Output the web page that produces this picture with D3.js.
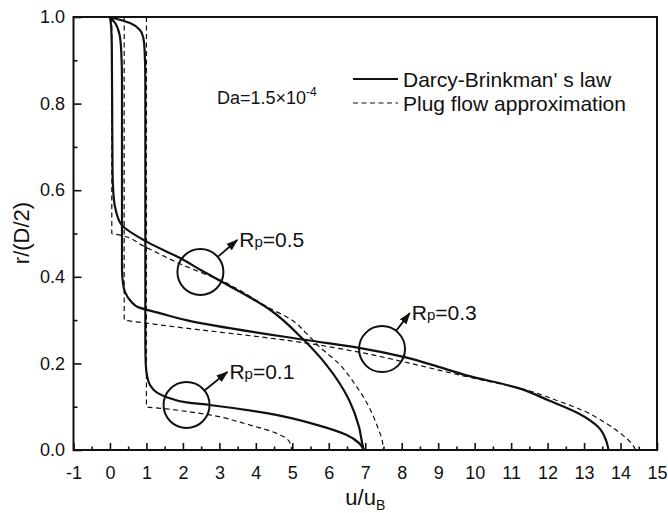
<!DOCTYPE html>
<html>
<head>
<meta charset="utf-8">
<title>Velocity profiles</title>
<style>
  body { margin: 0; background: #fff; }
  svg { display: block; font-family: "Liberation Sans", Arial, sans-serif; }
  .tick text { font-size: 18px; fill: #111; }
  .tick line { stroke: #111; stroke-width: 1.6; }
</style>
</head>
<body>
<div id="chart"></div>
<script src="https://d3js.org/d3.v7.min.js"></script>
<script>
// [u/uB, r/(D/2)]
// Darcy-Brinkman's law (solid)
var brinkman01 = [[0,1],[0.55,0.986],[0.82,0.97],[0.91,0.954],[0.95,0.924],[0.97,0.85],[0.97,0.25],[0.98,0.2],[1.02,0.17],[1.1,0.15],[1.3,0.132],[1.56,0.122],[2.1,0.11],[2.73,0.104],[4.3,0.085],[5.67,0.058],[6.48,0.035],[6.83,0.016],[6.96,0]];
var brinkman03 = [[0,1],[0.15,0.985],[0.26,0.96],[0.31,0.92],[0.33,0.85],[0.33,0.7],[0.33,0.42],[0.35,0.39],[0.41,0.365],[0.59,0.342],[0.77,0.33],[1.04,0.323],[1.36,0.316],[2.09,0.3],[5.38,0.254],[6.83,0.236],[8.11,0.214],[9.01,0.192],[9.75,0.173],[11.2,0.143],[12.02,0.115],[12.84,0.085],[13.39,0.053],[13.6,0.023],[13.66,0.005],[13.67,0]];
var brinkman05 = [[0,1],[0.03,0.98],[0.05,0.93],[0.06,0.8],[0.07,0.65],[0.1,0.585],[0.17,0.55],[0.32,0.52],[1.03,0.48],[2.0,0.44],[2.5,0.415],[3.08,0.388],[4.37,0.325],[5.27,0.258],[5.95,0.195],[6.56,0.115],[6.83,0.053],[6.93,0.01],[6.96,0]];
// Plug flow approximation (dashed)
var plug01 = [[1.0,1],[1.0,0.1],[1.55,0.095],[2.73,0.081],[3.82,0.058],[4.56,0.039],[4.92,0.019],[4.98,0]];
var plug03 = [[0.39,1],[0.39,0.301],[1.0,0.293],[1.36,0.289],[5.38,0.247],[6.83,0.226],[7.93,0.206],[9.75,0.17],[11.4,0.139],[12.3,0.113],[13.0,0.09],[13.6,0.062],[14.05,0.035],[14.3,0.015],[14.42,0]];
var plug05 = [[0.05,1],[0.05,0.5],[0.25,0.497],[0.94,0.47],[2.0,0.427],[3.08,0.39],[4.37,0.328],[4.99,0.3],[5.38,0.27],[5.75,0.238],[6.27,0.2],[6.75,0.148],[7.1,0.1],[7.33,0.055],[7.47,0.02],[7.49,0]];

var xTicks = [-1,0,1,2,3,4,5,6,7,8,9,10,11,12,13,14,15];
var yTicks = [0.0,0.2,0.4,0.6,0.8,1.0];

// circled labels: Rp value, circle centre, arrow tip (data units)
var rpLabels = ["0.1","0.3","0.5"];
var rpCircles = [[2.10,0.104],[7.46,0.233],[2.48,0.411]];
var rpArrowTips = [[3.22,0.18],[8.22,0.316],[3.49,0.485]];

var legendLabels = ["Darcy-Brinkman' s law","Plug flow approximation"];

var W = 668, H = 513;
var margin = {top: 17, right: 11, bottom: 63, left: 73.5};
var width = W - margin.left - margin.right,
    height = H - margin.top - margin.bottom;

var svg = d3.select("#chart").append("svg")
    .attr("width", W).attr("height", H);

var g = svg.append("g")
    .attr("transform", "translate(" + margin.left + "," + margin.top + ")");

var x = d3.scaleLinear().domain([-1, 15]).range([0, width]);
var y = d3.scaleLinear().domain([0, 1]).range([height, 0]);

function mids(a) {
    var out = [];
    for (var i = 0; i < a.length - 1; i++) out.push((a[i] + a[i + 1]) / 2);
    return out;
}

// minor ticks
g.append("g").attr("transform", "translate(0," + height + ")")
    .call(d3.axisBottom(x).tickValues(mids(xTicks)).tickSizeInner(-3.5).tickSizeOuter(0).tickFormat(""))
    .call(a => a.select(".domain").remove());
g.append("g")
    .call(d3.axisLeft(y).tickValues(mids(yTicks)).tickSizeInner(-4).tickSizeOuter(0).tickFormat(""))
    .call(a => a.select(".domain").remove());

// major ticks
g.append("g").attr("transform", "translate(0," + height + ")")
    .call(d3.axisBottom(x).tickValues(xTicks).tickSizeInner(-7).tickSizeOuter(0).tickPadding(16).tickFormat(d3.format("d")))
    .call(a => a.select(".domain").remove())
    .selectAll("text").text(d => d < 0 ? "-" + Math.abs(d) : d);
g.append("g")
    .call(d3.axisLeft(y).tickValues(yTicks).tickSizeInner(-8).tickSizeOuter(0).tickPadding(8.5).tickFormat(d3.format(".1f")))
    .call(a => a.select(".domain").remove());

g.append("rect")
    .attr("width", width).attr("height", height)
    .attr("fill", "none").attr("stroke", "#111").attr("stroke-width", 2);

var line = d3.line()
    .x(d => x(d[0]))
    .y(d => y(d[1]))
    .curve(d3.curveMonotoneY);

[plug01, plug03, plug05].forEach(function(s) {
    g.append("path").datum(s)
        .attr("d", line)
        .attr("fill", "none")
        .attr("stroke", "#111")
        .attr("stroke-width", 1.2)
        .attr("stroke-dasharray", "5,3.5");
});
[brinkman01, brinkman03, brinkman05].forEach(function(s) {
    g.append("path").datum(s)
        .attr("d", line)
        .attr("fill", "none")
        .attr("stroke", "#111")
        .attr("stroke-width", 2.2);
});

// circles + arrows + labels
svg.append("defs").append("marker")
    .attr("id", "head")
    .attr("viewBox", "0 0 10 10")
    .attr("refX", 9).attr("refY", 5)
    .attr("markerWidth", 12).attr("markerHeight", 12)
    .attr("markerUnits", "userSpaceOnUse")
    .attr("orient", "auto")
    .append("path").attr("d", "M0,1.5 L10,5 L0,8.5 Z").attr("fill", "#111");

var R = 23;
rpLabels.forEach(function(lab, i) {
    var cx = x(rpCircles[i][0]), cy = y(rpCircles[i][1]);
    var tx = x(rpArrowTips[i][0]), ty = y(rpArrowTips[i][1]);
    var dx = tx - cx, dy = ty - cy, len = Math.sqrt(dx * dx + dy * dy);
    g.append("circle")
        .attr("cx", cx).attr("cy", cy).attr("r", R)
        .attr("fill", "none").attr("stroke", "#111").attr("stroke-width", 2);
    g.append("line")
        .attr("x1", cx + R * dx / len).attr("y1", cy + R * dy / len)
        .attr("x2", tx).attr("y2", ty)
        .attr("stroke", "#111").attr("stroke-width", 1.8)
        .attr("marker-end", "url(#head)");
    var t = g.append("text")
        .attr("x", tx + 2).attr("y", ty + 7)
        .attr("font-size", 21).attr("fill", "#111");
    t.append("tspan").text("R");
    t.append("tspan").attr("font-size", 15).text("p");
    t.append("tspan").text("=" + lab);
});

// Da annotation
var da = g.append("text")
    .attr("x", 217 - margin.left).attr("y", 104 - margin.top)
    .attr("font-size", 18).attr("fill", "#111");
da.append("tspan").text("Da=1.5\u00d710");
da.append("tspan").attr("font-size", 12).attr("dy", -8).text("-4");

// legend
var leg = svg.append("g").attr("transform", "translate(353,79)");
legendLabels.forEach(function(lab, i) {
    var row = leg.append("g").attr("transform", "translate(0," + (i * 24) + ")");
    row.append("line")
        .attr("x1", 0).attr("x2", 45).attr("y1", 0).attr("y2", 0)
        .attr("stroke", "#111")
        .attr("stroke-width", i === 0 ? 2.2 : 1.2)
        .attr("stroke-dasharray", i === 0 ? null : "5,3.5");
    row.append("text")
        .attr("x", 50).attr("y", 7.5)
        .attr("font-size", 21).attr("fill", "#111")
        .text(lab);
});

// axis titles
svg.append("text")
    .attr("transform", "translate(29,233) rotate(-90)")
    .attr("text-anchor", "middle")
    .attr("font-size", 22).attr("fill", "#111")
    .text("r/(D/2)");

var xt = svg.append("text")
    .attr("x", margin.left + width / 2).attr("y", 505)
    .attr("text-anchor", "middle")
    .attr("font-size", 22).attr("fill", "#111");
xt.append("tspan").text("u/u");
xt.append("tspan").attr("font-size", 14).attr("dy", 5).text("B");
</script>
</body>
</html>
